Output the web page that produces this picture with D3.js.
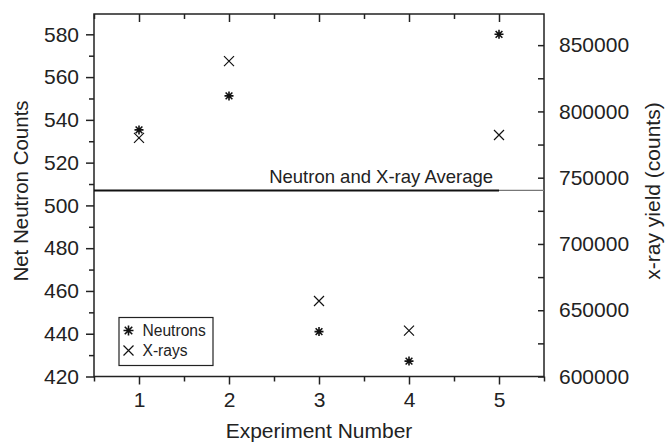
<!DOCTYPE html>
<html><head><meta charset="utf-8">
<script src="https://cdn.jsdelivr.net/npm/d3@7"></script>
<style>body{margin:0;background:#fff}svg{display:block;font-family:"Liberation Sans",Arial,sans-serif}</style>
</head><body><svg id="c" width="665" height="442"></svg>
<script>
const experiments = [1, 2, 3, 4, 5];
const neutrons = [535.3, 551.2, 441, 427.2, 580];
const xrays = [780000, 838000, 657000, 634600, 782200];
const averageNeutron = 507;
const leftTicks = [420, 440, 460, 480, 500, 520, 540, 560, 580];
const rightTicks = [600000, 650000, 700000, 750000, 800000, 850000];
const seriesNames = ["Neutrons", "X-rays"];

const svg = d3.select("#c");
const L = 94, R = 544, T = 14, B = 376.5;
const x = d3.scaleLinear().domain([0.5, 5.5]).range([L, R]);
const yL = d3.scaleLinear().domain([420, 589.5]).range([B, T]);
const yR = d3.scaleLinear().domain([600000, 873500]).range([B, T]);
const col = "#222";
const FONT = '"Liberation Sans",Arial,sans-serif';

const minorX = d3.range(0.5, 5.51, 0.5);
const minorL = d3.range(420, 590, 10);
const minorR = d3.range(600000, 873500, 25000);

function axisG(axis, tf) {
  const g = svg.append("g").attr("transform", tf).call(axis);
  g.select(".domain").remove();
  g.selectAll("line").attr("stroke", col).attr("stroke-width", 1.5);
  g.selectAll("text").attr("fill", col).style("font-size", "21px").style("font-family", FONT);
  return g;
}
// bottom
axisG(d3.axisBottom(x).tickValues(minorX.filter(v => v % 1 !== 0)).tickSize(5).tickFormat(""), `translate(0,${B})`);
axisG(d3.axisBottom(x).tickValues(experiments).tickSize(8).tickPadding(7.5).tickFormat(d3.format("d")), `translate(0,${B})`);
// top (inward)
axisG(d3.axisBottom(x).tickValues(minorX.filter(v => v % 1 !== 0 && v < 5.5)).tickSize(5).tickFormat(""), `translate(0,${T})`);
axisG(d3.axisBottom(x).tickValues(experiments).tickSize(8).tickFormat(""), `translate(0,${T})`);
// left
axisG(d3.axisLeft(yL).tickValues(minorL.filter(v => v % 20 !== 0)).tickSize(5).tickFormat(""), `translate(${L},0)`);
axisG(d3.axisLeft(yL).tickValues(leftTicks).tickSize(8).tickPadding(7).tickFormat(d3.format("d")), `translate(${L},0)`);
// right (inward ticks, labels outside)
axisG(d3.axisLeft(yR).tickValues(minorR).tickSize(6).tickFormat(""), `translate(${R},0)`);
axisG(d3.axisRight(yR).tickValues(rightTicks).tickSize(0).tickPadding(15).tickFormat(d3.format("d")), `translate(${R},0)`);

// frame
svg.append("rect").attr("x", L).attr("y", T).attr("width", R - L).attr("height", B - T)
  .attr("fill", "none").attr("stroke", col).attr("stroke-width", 1.5);

// average line
svg.append("line").attr("x1", x(0.5)).attr("x2", x(5)).attr("y1", yL(averageNeutron)).attr("y2", yL(averageNeutron))
  .attr("stroke", "#111").attr("stroke-width", 2);
svg.append("line").attr("x1", x(5)).attr("x2", x(5.5)).attr("y1", yL(averageNeutron)).attr("y2", yL(averageNeutron))
  .attr("stroke", "#777").attr("stroke-width", 1.2);
svg.append("text").attr("x", 493).attr("y", 183).attr("text-anchor", "end")
  .attr("fill", col).style("font-size", "18.5px").text("Neutron and X-ray Average");

// markers
function asterisk(g, cx, cy, s) {
  const p = `M${cx - s},${cy}L${cx + s},${cy}M${cx},${cy - s}L${cx},${cy + s}` +
    `M${cx - s * 0.75},${cy - s * 0.75}L${cx + s * 0.75},${cy + s * 0.75}M${cx - s * 0.75},${cy + s * 0.75}L${cx + s * 0.75},${cy - s * 0.75}`;
  g.append("path").attr("d", p).attr("stroke", "#111").attr("stroke-width", 1.6).attr("fill", "none");
}
function cross(g, cx, cy, s) {
  g.append("path").attr("d", `M${cx - s},${cy - s}L${cx + s},${cy + s}M${cx - s},${cy + s}L${cx + s},${cy - s}`)
    .attr("stroke", "#111").attr("stroke-width", 1.2).attr("fill", "none");
}
const mg = svg.append("g");
experiments.forEach((e, i) => {
  cross(mg, x(e), yR(xrays[i]), 5);
  asterisk(mg, x(e), yL(neutrons[i]), 4.5);
});

// legend
const lg = svg.append("g");
lg.append("rect").attr("x", 119).attr("y", 317.5).attr("width", 94).attr("height", 48)
  .attr("fill", "#fff").attr("stroke", col).attr("stroke-width", 1.2);
asterisk(lg, 128.5, 330.5, 5);
cross(lg, 128.5, 350.5, 5);
lg.append("text").attr("x", 142.5).attr("y", 335.7).attr("fill", col).style("font-size", "15.6px").text(seriesNames[0]);
lg.append("text").attr("x", 142.5).attr("y", 355.7).attr("fill", col).style("font-size", "15.6px").text(seriesNames[1]);

// axis titles
svg.append("text").attr("x", 319).attr("y", 438).attr("text-anchor", "middle")
  .attr("fill", col).style("font-size", "21px").text("Experiment Number");
svg.append("text").attr("transform", "translate(28,191) rotate(-90)").attr("text-anchor", "middle")
  .attr("fill", col).style("font-size", "20.5px").text("Net Neutron Counts");
svg.append("text").attr("transform", "translate(660,191) rotate(-90)").attr("text-anchor", "middle")
  .attr("fill", col).style("font-size", "21px").text("x-ray yield (counts)");
</script></body></html>
